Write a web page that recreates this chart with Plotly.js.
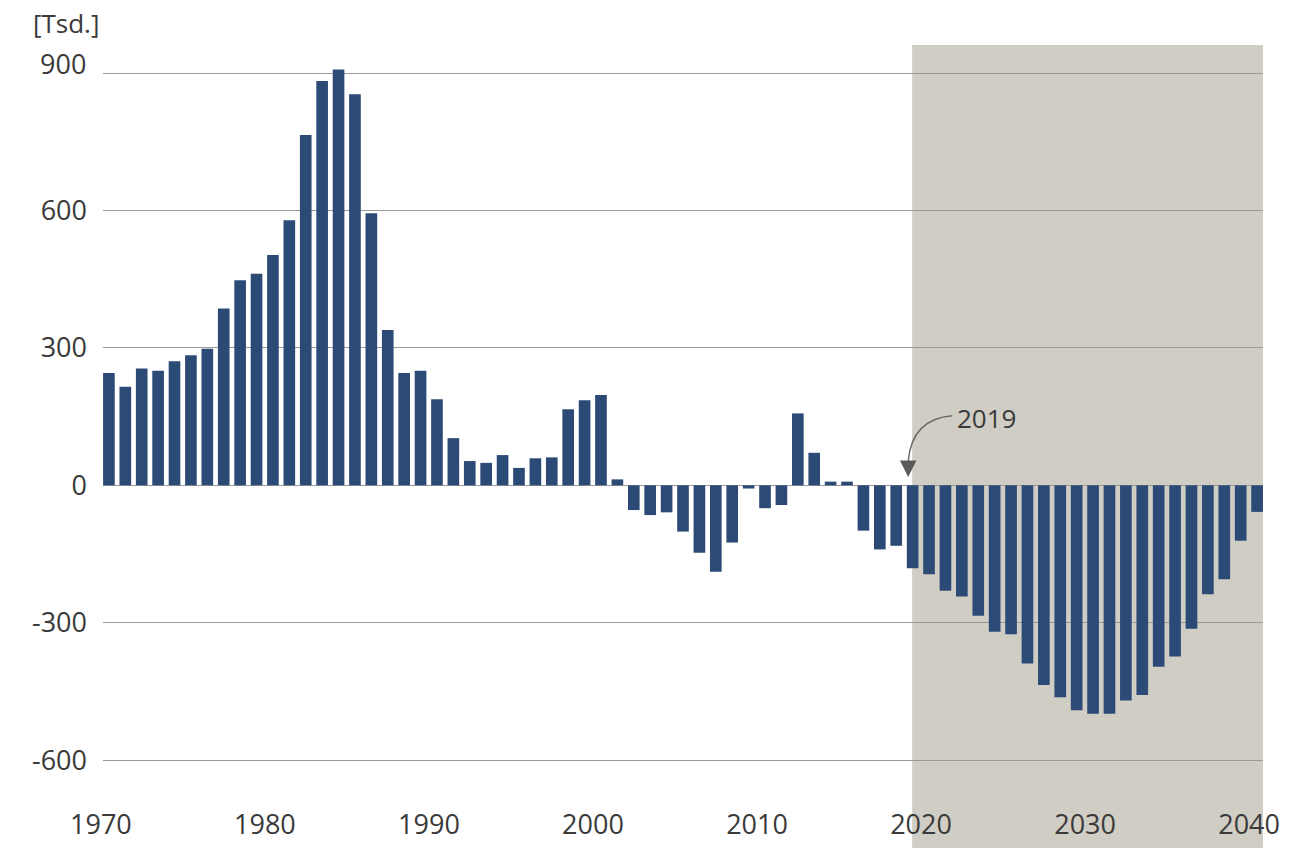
<!DOCTYPE html>
<html>
<head>
<meta charset="utf-8">
<script src="https://cdn.plot.ly/plotly-3.0.1.min.js"></script>
<style>
  html, body { margin: 0; padding: 0; background: #ffffff; }
  #chart { width: 1289px; height: 848px; }
</style>
</head>
<body>
<div id="chart"></div>
<script>
// ---- data (thousands) ----
const years = [
  1970, 1971, 1972, 1973, 1974, 1975, 1976, 1977, 1978, 1979,
  1980, 1981, 1982, 1983, 1984, 1985, 1986, 1987, 1988, 1989,
  1990, 1991, 1992, 1993, 1994, 1995, 1996, 1997, 1998, 1999,
  2000, 2001, 2002, 2003, 2004, 2005, 2006, 2007, 2008, 2009,
  2010, 2011, 2012, 2013, 2014, 2015, 2016, 2017, 2018, 2019,
  2020, 2021, 2022, 2023, 2024, 2025, 2026, 2027, 2028, 2029,
  2030, 2031, 2032, 2033, 2034, 2035, 2036, 2037, 2038, 2039,
  2040
];
const values = [
  245, 215, 255, 250, 271, 284, 298, 386, 448, 462,
  503, 579, 765, 883, 908, 854, 594, 339, 245, 250,
  188, 103, 53, 49, 66, 38, 59, 61, 166, 186,
  197, 13, -54, -65, -59, -101, -147, -189, -125, -7,
  -50, -43, 157, 71, 8, 8, -99, -140, -132, -181,
  -194, -230, -243, -285, -320, -325, -389, -436, -463, -491,
  -499, -499, -470, -458, -396, -374, -313, -238, -205, -121,
  -58
];
const xTickVals = [1970, 1980, 1990, 2000, 2010, 2020, 2030, 2040];
const xTickText = ['1970', '1980', '1990', '2000', '2010', '2020', '2030', '2040'];
const yTickVals = [-600, -300, 0, 300, 600, 900];
const yTickText = ['-600', '-300', '0', '300', '600', ''];
const unitLabel = '[Tsd.]';
const topLabel = '900';
const markerYear = '2019';
const forecastStart = 2018.97;   // start of shaded projection area
const forecastEnd = 2041;

const FONT = '"Open Sans", "Noto Sans", sans-serif';
const TXT = '#3a3a3a';

const trace = {
  type: 'bar',
  x: years,
  y: values,
  marker: { color: '#2c4a76', line: { width: 0 } },
  hoverinfo: 'skip'
};

const layout = {
  width: 1289,
  height: 848,
  margin: { l: 103, r: 26, t: 45, b: 48, pad: 0 },
  paper_bgcolor: '#ffffff',
  plot_bgcolor: 'rgba(0,0,0,0)',
  showlegend: false,
  bargap: 0.29,
  font: { family: FONT, color: TXT, size: 27 },
  xaxis: {
    range: [1969.64, 2040.36],
    tickmode: 'array',
    tickvals: xTickVals,
    ticktext: xTickText,
    ticks: '',
    showgrid: false,
    zeroline: false,
    showline: false,
    ticklabelshift: -8,
    ticklabelstandoff: 6,
    tickfont: { family: FONT, size: 27, color: TXT }
  },
  yaxis: {
    range: [-687.1, 961.4],
    tickmode: 'array',
    tickvals: yTickVals,
    ticktext: yTickText,
    ticks: '',
    showgrid: true,
    gridcolor: '#9a9a9a',
    gridwidth: 1,
    zeroline: false,
    showline: false,
    ticklabelstandoff: 15,
    tickfont: { family: FONT, size: 27, color: TXT }
  },
  shapes: [
    {
      type: 'rect', layer: 'below',
      xref: 'x', yref: 'paper',
      x0: forecastStart, x1: forecastEnd, y0: -0.2, y1: 1,
      fillcolor: '#d0cdc5', line: { width: 0 }
    },
    {
      type: 'path', layer: 'above',
      xref: 'x', yref: 'y',
      path: 'M 2021.41 151.7 Q 2018.95 145 2018.73 52',
      line: { color: '#6a6a6a', width: 1.5 }
    }
  ],
  annotations: [
    {
      text: unitLabel, showarrow: false,
      xref: 'paper', yref: 'paper',
      x: -0.0625, y: 1, xanchor: 'left', yanchor: 'middle', yshift: 22,
      font: { family: FONT, size: 26, color: TXT }
    },
    {
      text: topLabel, showarrow: false,
      xref: 'paper', yref: 'y',
      x: 0, y: 900, xanchor: 'right', yanchor: 'middle',
      xshift: -15, yshift: 10,
      font: { family: FONT, size: 27, color: TXT }
    },
    {
      text: markerYear, showarrow: false,
      xref: 'x', yref: 'y',
      x: 2021.6, y: 147, xanchor: 'left', yanchor: 'middle',
      font: { family: FONT, size: 26, color: TXT }
    },
    {
      text: '', showarrow: true,
      xref: 'x', yref: 'y',
      x: 2018.73, y: 18,
      ax: 0, ay: -16,
      arrowhead: 2, arrowsize: 2.2, arrowwidth: 1.5,
      arrowcolor: '#5a5a5a'
    }
  ]
};

Plotly.newPlot('chart', [trace], layout, { staticPlot: true, displayModeBar: false });
</script>
</body>
</html>
